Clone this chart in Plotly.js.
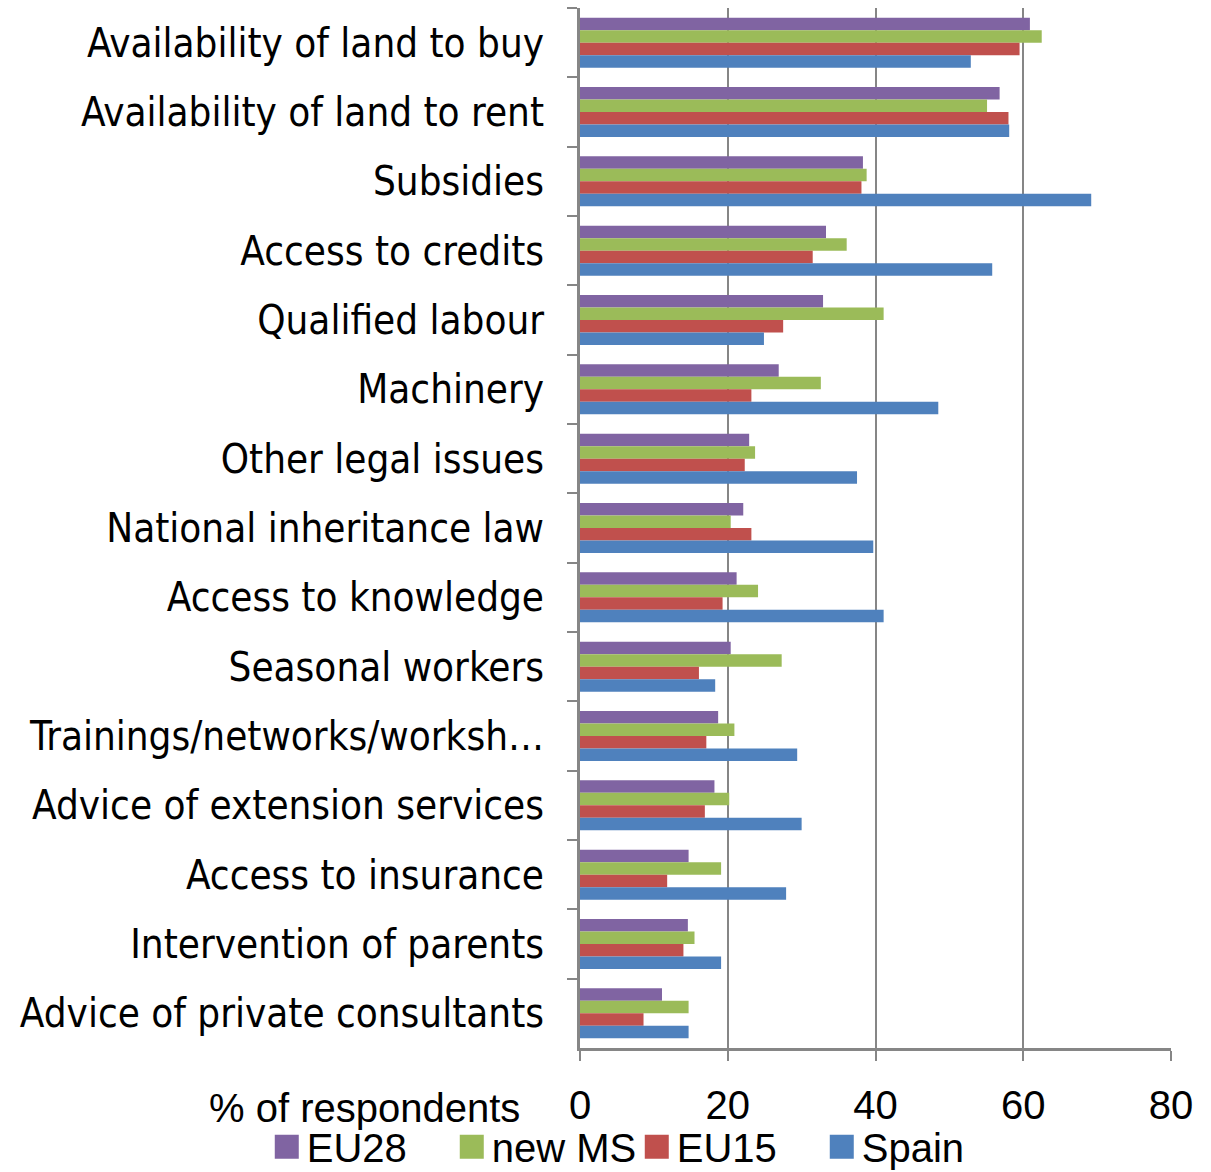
<!DOCTYPE html>
<html>
<head>
<meta charset="utf-8">
<script src="https://cdn.plot.ly/plotly-3.0.1.min.js"></script>
<style>html,body{margin:0;padding:0;background:#fff;}#chart{width:1211px;height:1172px;}</style>
</head>
<body>
<div id="chart"></div>
<script>
const categories = [
  "Availability of land to buy",
  "Availability of land to rent",
  "Subsidies",
  "Access to credits",
  "Qualified labour",
  "Machinery",
  "Other legal issues",
  "National inheritance law",
  "Access to knowledge",
  "Seasonal workers",
  "Trainings/networks/worksh\u2026",
  "Advice of extension services",
  "Access to insurance",
  "Intervention of parents",
  "Advice of private consultants"
];
const eu28  = [60.9, 56.8, 38.3, 33.3, 32.9, 26.9, 22.9, 22.1, 21.2, 20.4, 18.7, 18.2, 14.7, 14.6, 11.1];
const newMS = [62.5, 55.1, 38.8, 36.1, 41.1, 32.6, 23.7, 20.4, 24.1, 27.3, 20.9, 20.2, 19.1, 15.5, 14.7];
const eu15  = [59.5, 58.0, 38.1, 31.5, 27.5, 23.2, 22.3, 23.2, 19.3, 16.1, 17.1, 16.9, 11.8, 14.0, 8.6];
const spain = [52.9, 58.1, 69.2, 55.8, 24.9, 48.5, 37.5, 39.7, 41.1, 18.3, 29.4, 30.0, 27.9, 19.1, 14.7];
const seriesNames = ["EU28", "new MS", "EU15", "Spain"];
const seriesColors = ["#8064A2", "#9BBB59", "#C0504D", "#4F81BD"];
const xTicks = [0, 20, 40, 60, 80];

const catFont = "DejaVu Sans Condensed, Liberation Sans, Arial, sans-serif";
const arialFont = "Liberation Sans, Arial, sans-serif";
const data = [eu28, newMS, eu15, spain].map((vals, i) => ({
  type: "bar",
  orientation: "h",
  name: seriesNames[i],
  x: vals,
  y: categories,
  marker: {color: seriesColors[i]},
  hoverinfo: "x+name"
}));

const layout = {
  width: 1211,
  height: 1172,
  margin: {l: 580, r: 40, t: 8, b: 124, autoexpand: false},
  paper_bgcolor: "#ffffff",
  plot_bgcolor: "#ffffff",
  font: {family: arialFont, size: 40, color: "#000"},
  barmode: "group",
  bargap: 0.28,
  bargroupgap: 0,
  showlegend: true,
  legend: {
    orientation: "h",
    xref: "paper", yref: "paper",
    x: -0.53, xanchor: "left",
    y: -0.095, yanchor: "middle",
    font: {family: arialFont, size: 40, color: "#000"},
    traceorder: "normal",
    itemwidth: 30,
    entrywidth: 140,
    entrywidthmode: "pixels",
    bgcolor: "rgba(0,0,0,0)"
  },
  xaxis: {
    range: [0, 80],
    tickvals: xTicks,
    ticktext: xTicks.map(String),
    showgrid: true,
    gridcolor: "#868686",
    gridwidth: 2,
    zeroline: false,
    showline: true,
    linecolor: "#868686",
    linewidth: 3,
    ticks: "outside",
    ticklen: 10,
    tickwidth: 2,
    tickcolor: "#868686",
    tickfont: {family: arialFont, size: 40, color: "#000"},
    ticklabelstandoff: 10,
    fixedrange: true
  },
  yaxis: {
    type: "category",
    autorange: "reversed",
    categoryorder: "array",
    categoryarray: categories,
    showgrid: false,
    zeroline: false,
    showline: true,
    linecolor: "#868686",
    linewidth: 3,
    ticks: "outside",
    tickson: "boundaries",
    ticklen: 10,
    tickwidth: 2,
    tickcolor: "#868686",
    tickfont: {family: catFont, size: 40, color: "#000"},
    ticklabelstandoff: 25,
    fixedrange: true
  },
  annotations: [{
    text: "% of respondents",
    xref: "paper", yref: "paper",
    x: -0.098, xanchor: "right",
    y: -0.058, yanchor: "middle",
    showarrow: false,
    font: {family: arialFont, size: 40, color: "#000"}
  }]
};

Plotly.newPlot("chart", data, layout, {displayModeBar: false, staticPlot: true}).then(function (gd) {
  // enlarge the legend swatches to match the reference's big squares
  gd.querySelectorAll(".legend .legendpoints path").forEach(function (p) {
    p.setAttribute("d", "M12,12H-12V-12H12Z");
  });
});
</script>
</body>
</html>
